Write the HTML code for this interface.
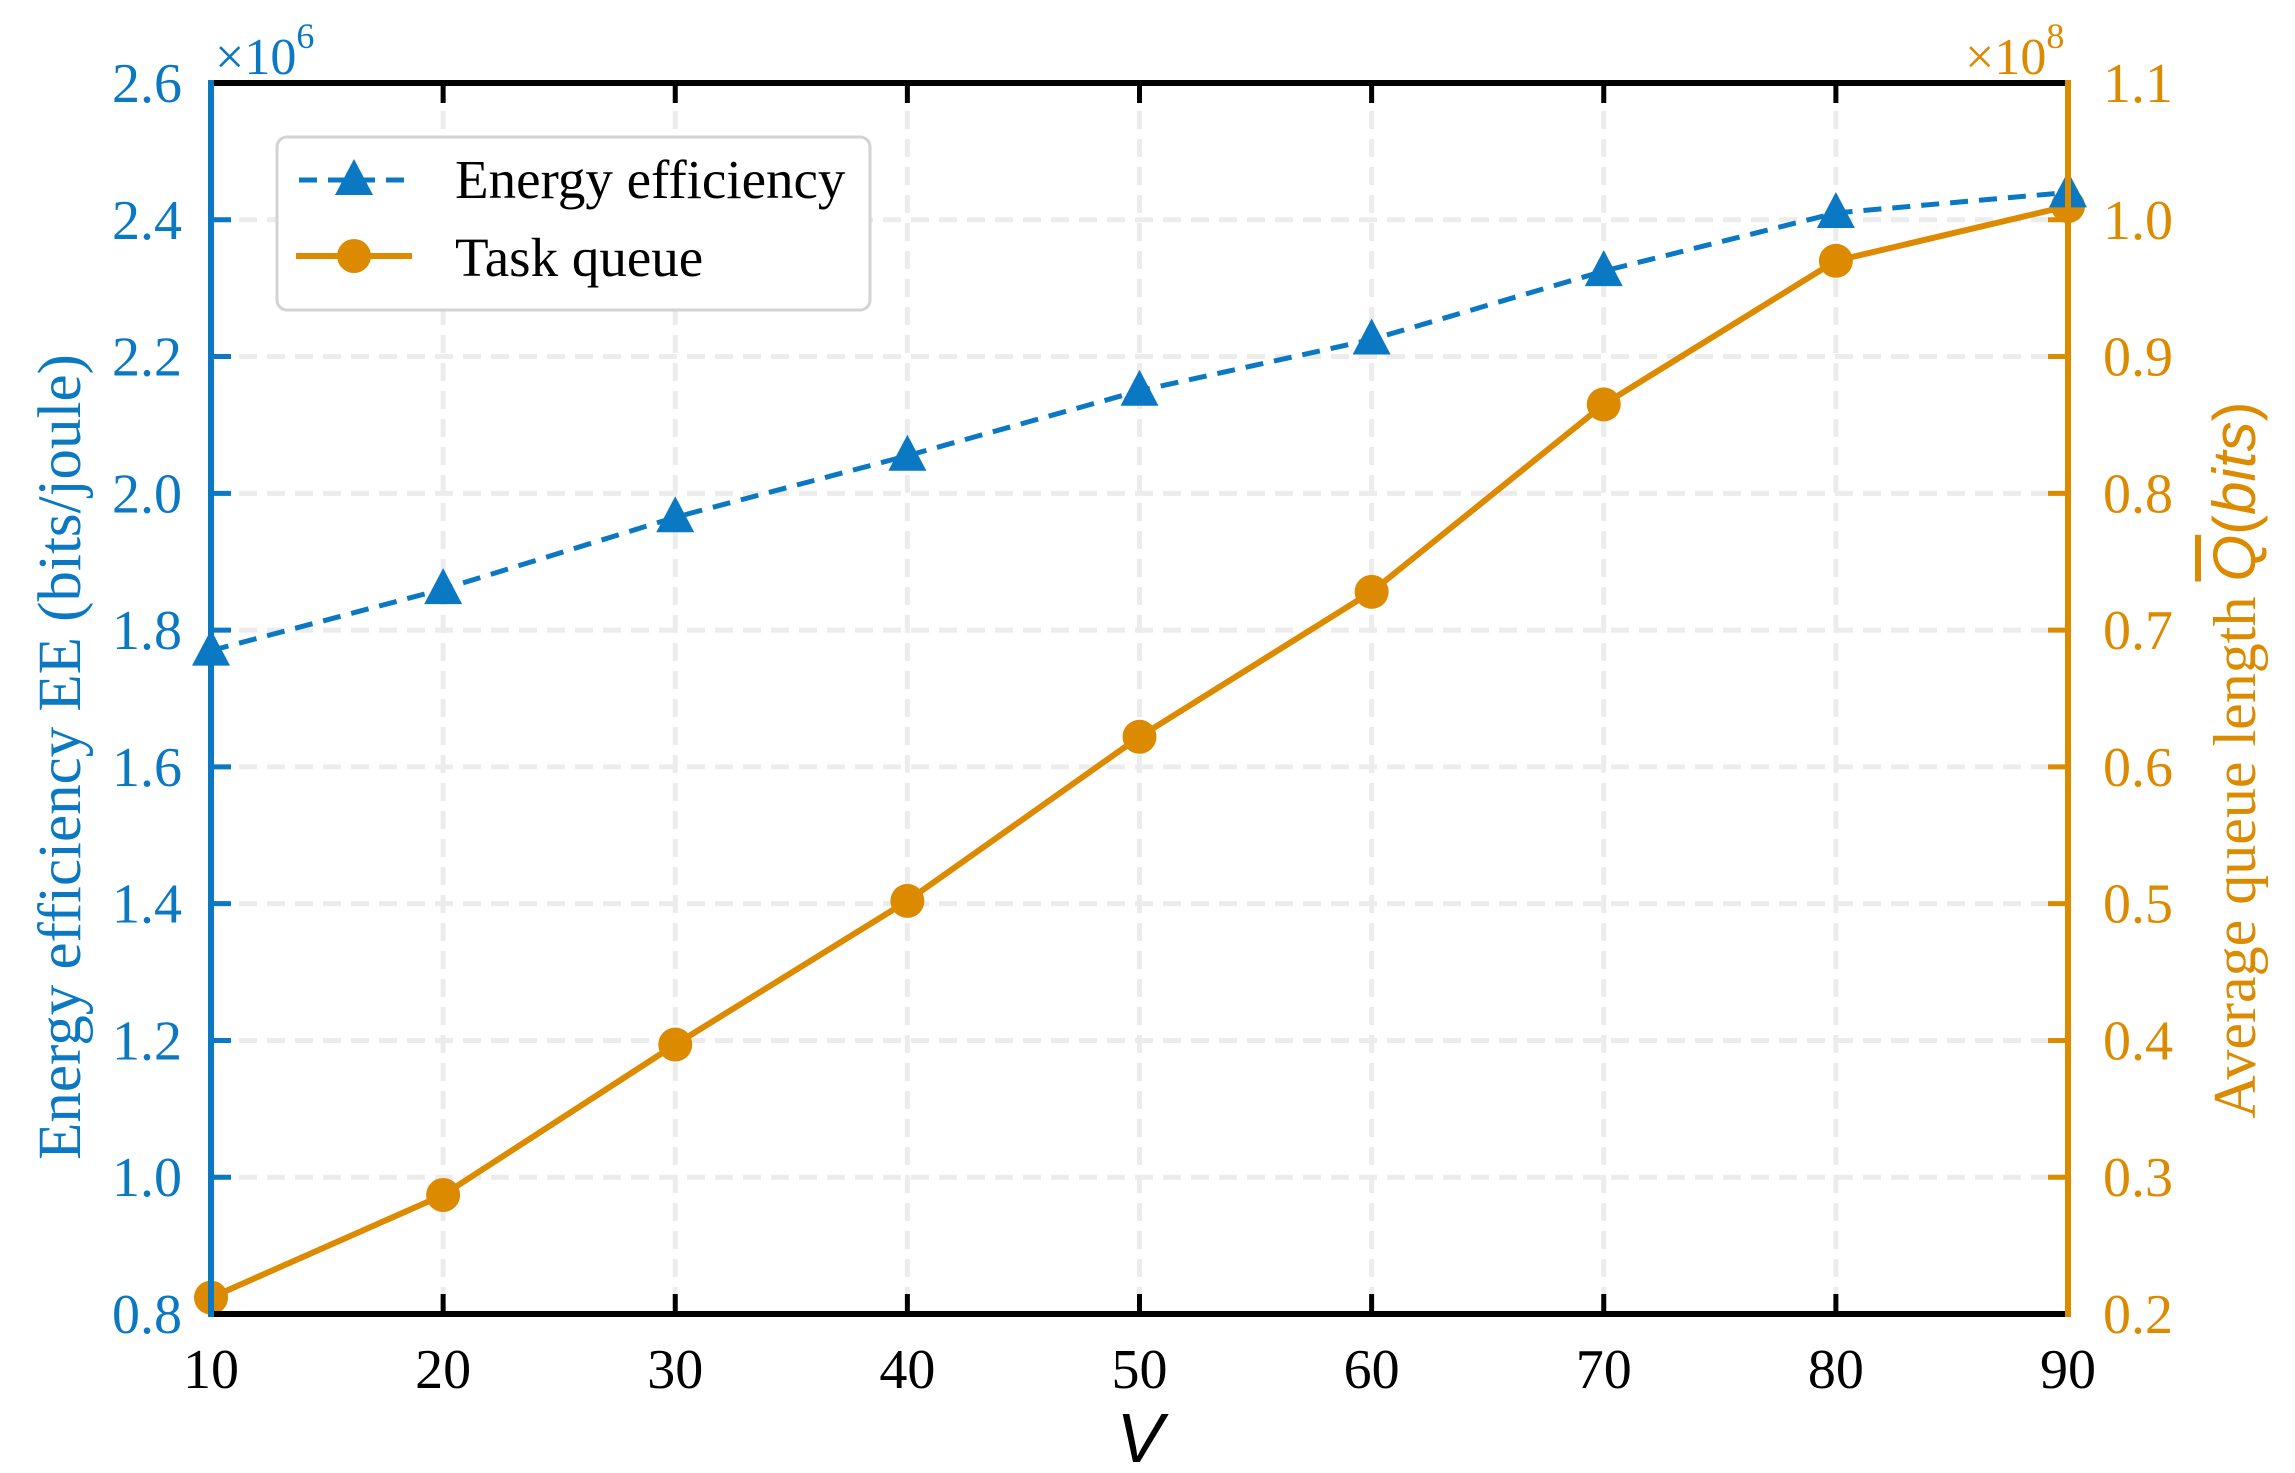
<!DOCTYPE html>
<html><head><meta charset="utf-8"><style>
html,body{margin:0;padding:0;background:#fff;}
svg{display:block;font-family:"Liberation Serif",serif;}
</style></head><body>
<svg id="chart" width="2295" height="1473" viewBox="0 0 2295 1473" xmlns="http://www.w3.org/2000/svg">
<g id="grid"></g>
<g id="series"></g>
<g id="axes"></g>
<text x="215" y="74" font-size="52" fill="#0a78c2">×10<tspan dy="-26" font-size="36">6</tspan></text>
<text x="1965" y="74" font-size="52" fill="#dc8a00">×10<tspan dy="-26" font-size="36">8</tspan></text>
<text x="1140" y="1462" font-size="70" font-style="italic" text-anchor="middle" font-family="Liberation Sans, sans-serif">V</text>
<text transform="translate(80,757) rotate(-90)" font-size="61" fill="#0a78c2" text-anchor="middle">Energy efficiency EE (bits/joule)</text>
<text transform="translate(2255,760) rotate(-90)" font-size="60" fill="#dc8a00" text-anchor="middle">Average queue length <tspan font-style="italic" font-family="Liberation Sans, sans-serif" text-decoration="overline">Q</tspan><tspan font-family="Liberation Sans, sans-serif">(</tspan><tspan font-style="italic" font-family="Liberation Sans, sans-serif">bits</tspan><tspan font-family="Liberation Sans, sans-serif">)</tspan></text>
<g>
<rect x="277" y="137" width="593" height="173" rx="10" fill="#fff" stroke="#d3d3d3" stroke-width="3"/>
<line x1="299" y1="180" x2="407" y2="180" stroke="#0a78c2" stroke-width="5" stroke-dasharray="18,11"/>
<polygon points="354,159 373,195 335,195" fill="#0a78c2"/>
<text x="455" y="198" font-size="55">Energy efficiency</text>
<line x1="296" y1="256" x2="412" y2="256" stroke="#dc8a00" stroke-width="6"/>
<circle cx="354" cy="256" r="17" fill="#dc8a00"/>
<text x="455" y="276" font-size="55">Task queue</text>
</g>
</svg>
<script>
const xValues=[10,20,30,40,50,60,70,80,90];
const eeValues=[1.77,1.86,1.965,2.055,2.15,2.225,2.325,2.41,2.44];
const queueValues=[0.212,0.287,0.397,0.502,0.622,0.728,0.865,0.97,1.01];
const xTicks=[10,20,30,40,50,60,70,80,90];
const leftTicks=["0.8","1.0","1.2","1.4","1.6","1.8","2.0","2.2","2.4","2.6"];
const rightTicks=["0.2","0.3","0.4","0.5","0.6","0.7","0.8","0.9","1.0","1.1"];
const L=211,R=2068,T=83,B=1314;
const BLUE="#0a78c2",ORANGE="#dc8a00",NS="http://www.w3.org/2000/svg";
const xs=v=>L+(v-10)/80*(R-L);
const yl=v=>B-(v-0.8)/1.8*(B-T);
const yr=v=>B-(v-0.2)/0.9*(B-T);
function mk(tag,attrs,parent){const e=document.createElementNS(NS,tag);for(const k in attrs)e.setAttribute(k,attrs[k]);parent.appendChild(e);return e;}
const grid=document.getElementById('grid'),axes=document.getElementById('axes'),series=document.getElementById('series');
xTicks.forEach(v=>{
  const x=xs(v);
  if(v>10&&v<90){const g=mk('line',{x1:x,y1:T,x2:x,y2:B,stroke:'#ececec','stroke-width':5,'stroke-dasharray':'18,10'},grid);
  
  }
  const t1=mk('line',{x1:x,y1:B,x2:x,y2:B-20,stroke:'#000','stroke-width':5},axes);
  
  
  const t2=mk('line',{x1:x,y1:T,x2:x,y2:T+20,stroke:'#000','stroke-width':5},axes);
  
  
  const lb=mk('text',{x:x,y:1388,'font-size':56,'text-anchor':'middle'},axes);lb.textContent=v;
  
  
});
leftTicks.forEach(s=>{
  const y=yl(+s);
  if(+s>0.8&&+s<2.6){const g=mk('line',{x1:L,y1:y,x2:R,y2:y,stroke:'#ececec','stroke-width':5,'stroke-dasharray':'18,10'},grid);
  
  }
  const t=mk('line',{x1:L,y1:y,x2:L+20,y2:y,stroke:BLUE,'stroke-width':5},axes);
  
  
  const lb=mk('text',{x:182,y:y+19,'font-size':56,'text-anchor':'end',fill:BLUE},axes);lb.textContent=s;
  
  
});
rightTicks.forEach(s=>{
  const y=yr(+s);
  const t=mk('line',{x1:R,y1:y,x2:R-20,y2:y,stroke:ORANGE,'stroke-width':5},axes);
  
  
  const lb=mk('text',{x:2103,y:y+19,'font-size':56,fill:ORANGE},axes);lb.textContent=s;
  
  
});
[[L,T,R,T,'#000','top-spine'],[L,B,R,B,'#000','bottom-spine'],[L,T,L,B,BLUE,'left-spine'],[R,T,R,B,ORANGE,'right-spine']].forEach(a=>{
  const s=mk('line',{x1:a[0],y1:a[1],x2:a[2],y2:a[3],stroke:a[4],'stroke-width':6,'stroke-linecap':'square'},axes);
  
  
});
const qPts=xValues.map((v,i)=>xs(v)+','+yr(queueValues[i])).join(' ');
const ql=mk('polyline',{points:qPts,fill:'none',stroke:ORANGE,'stroke-width':6},series);


xValues.forEach((v,i)=>{
  const c=mk('circle',{cx:xs(v),cy:yr(queueValues[i]),r:17,fill:ORANGE},series);
  
  
});
const ePts=xValues.map((v,i)=>xs(v)+','+yl(eeValues[i])).join(' ');
const el=mk('polyline',{points:ePts,fill:'none',stroke:BLUE,'stroke-width':5,'stroke-dasharray':'18,11'},series);


xValues.forEach((v,i)=>{
  const x=xs(v),y=yl(eeValues[i]);
  const p=mk('polygon',{points:`${x},${y-21} ${x+19},${y+15} ${x-19},${y+15}`,fill:BLUE},series);
  
  
});
</script>
</body></html>
